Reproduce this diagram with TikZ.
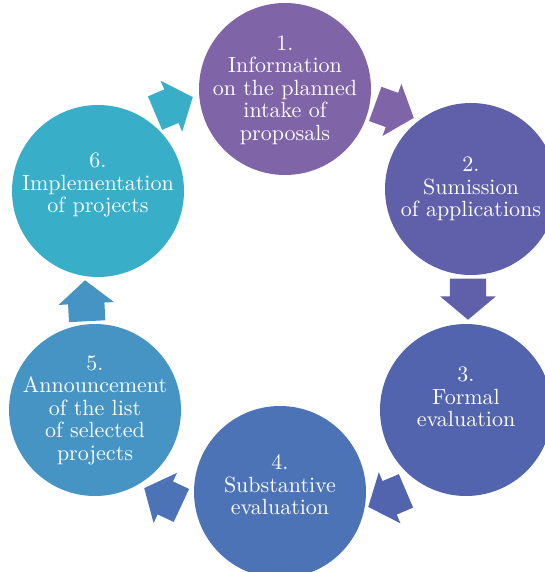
\documentclass[tikz,border=0pt]{standalone}
\usepackage{fontspec}
\usetikzlibrary{shapes.arrows}

\newfontfamily\stepfont{lmroman10-regular.otf}

\definecolor{stepone}{RGB}{128,100,168}
\definecolor{steptwo}{RGB}{96,95,169}
\definecolor{stepthree}{RGB}{81,100,173}
\definecolor{stepfour}{RGB}{75,115,182}
\definecolor{stepfive}{RGB}{69,148,196}
\definecolor{stepsix}{RGB}{56,174,201}

\begin{document}
\begin{tikzpicture}[x=1pt, y=-1pt,
    stepcircle/.style={circle, minimum size=172pt, inner sep=0pt},
    steptext/.style={text=white, align=center, font=\stepfont\fontsize{22}{22.5}\selectfont},
    blockarrow/.style={single arrow, anchor=tip, minimum height=41pt, minimum width=55pt,
      single arrow head extend=9.5pt, single arrow tip angle=100,
      inner xsep=0pt, inner ysep=18pt, text height=0pt, text depth=0pt}]
  \useasboundingbox (0,0) rectangle (545,572);

  % the six stages
  \node [stepcircle, fill=stepone] (s1) at (285, 89) {};
  \node [stepcircle, fill=steptwo] (s2) at (471, 189) {};
  \node [stepcircle, fill=stepthree] (s3) at (466, 410) {};
  \node [stepcircle, fill=stepfour] (s4) at (280, 492) {};
  \node [stepcircle, fill=stepfive] (s5) at (95, 410) {};
  \node [stepcircle, fill=stepsix] (s6) at (98, 191) {};

  \node [steptext] (t1) at ([yshift=-1pt]s1) {1.\\ Information\\ on the planned\\ intake of\\ proposals};
  \node [steptext] (t2) at (s2) {2.\\ Sumission\\ of applications};
  \node [steptext] (t3) at ([yshift=13pt]s3) {3.\\ Formal\\ evaluation};
  \node [steptext] (t4) at ([yshift=7pt]s4) {4.\\ Substantive\\ evaluation};
  \node [steptext] (t5) at (s5) {5.\\ Announcement\\ of the list\\ of selected\\ projects};
  \node [steptext] (t6) at ([yshift=6pt]s6) {6.\\ Implementation\\ of projects};

  % arrows round the cycle
  \node [blockarrow, fill=stepone, rotate=-20] (a12) at (414, 118) {};
  \node [blockarrow, fill=steptwo, rotate=-90] (a23) at (468, 320) {};
  \node [blockarrow, fill=stepthree, rotate=-157] (a34) at (368, 507) {};
  \node [blockarrow, fill=stepfour, rotate=155] (a45) at (144, 488) {};
  \node [blockarrow, fill=stepfive, rotate=93] (a56) at (85, 280) {};
  \node [blockarrow, fill=stepsix, rotate=23] (a61) at (193, 97) {};
\end{tikzpicture}
\end{document}
